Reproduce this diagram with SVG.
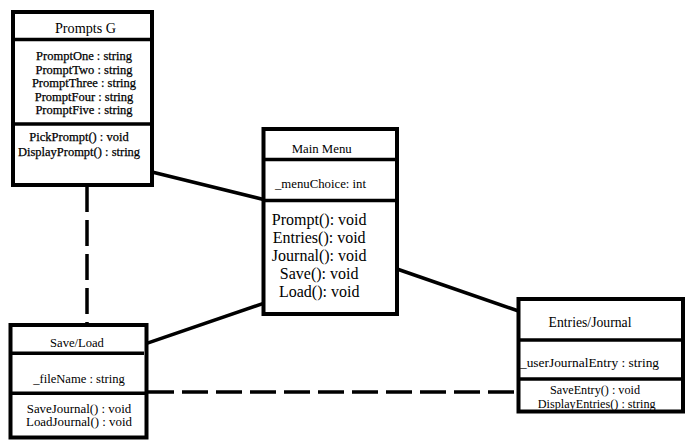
<svg xmlns="http://www.w3.org/2000/svg" width="685" height="447" viewBox="0 0 685 447">
<style>
.box{fill:#fff;stroke:#000;stroke-width:4}
.div{stroke:#000;stroke-width:3.5;fill:none}
.conn{stroke:#000;stroke-width:3.5;fill:none}
.dash{stroke-dasharray:26 8}
text{font-family:"Liberation Serif","Times New Roman",serif;fill:#000;text-anchor:middle}
.bold{stroke:#000;stroke-width:0.25}
</style>
<rect width="685" height="447" fill="#fff"/>
<g id="connectors">
<line class="conn" x1="152" y1="172" x2="263.5" y2="199.5"/>
<line class="conn" x1="397" y1="269" x2="518.5" y2="311"/>
<line class="conn" x1="146.7" y1="343.3" x2="263.5" y2="303.3"/>
<line class="conn dash" x1="148" y1="392" x2="518.5" y2="392"/>
<line class="conn dash" x1="87" y1="186" x2="87" y2="325"/>
</g>
<g id="prompts">
<rect class="box" x="13" y="12" width="139" height="173"/>
<line class="div" x1="13" y1="39.5" x2="152" y2="39.5"/>
<line class="div" x1="13" y1="124" x2="152" y2="124"/>
<text x="85.5" y="33" font-size="14.2">Prompts G</text>
<g font-size="12.5" class="bold">
<text x="84" y="60">PromptOne : string</text>
<text x="84" y="73.5">PromptTwo : string</text>
<text x="84" y="87">PromptThree : string</text>
<text x="84" y="100.5">PromptFour : string</text>
<text x="84" y="114">PromptFive : string</text>
<text x="79" y="141">PickPrompt() : void</text>
<text x="79" y="156">DisplayPrompt() : string</text>
</g>
</g>
<g id="mainmenu">
<rect class="box" x="263.5" y="129" width="133.5" height="185"/>
<line class="div" x1="263.5" y1="159.5" x2="397" y2="159.5"/>
<line class="div" x1="263.5" y1="200.5" x2="397" y2="200.5"/>
<text x="321.7" y="152.7" font-size="12.8">Main Menu</text>
<text x="320.5" y="188" font-size="12.75">_menuChoice: int</text>
<g font-size="16">
<text x="319.2" y="225">Prompt(): void</text>
<text x="319.2" y="243">Entries(): void</text>
<text x="319.2" y="261">Journal(): void</text>
<text x="319.2" y="279">Save(): void</text>
<text x="319.2" y="297">Load(): void</text>
</g>
</g>
<g id="saveload">
<rect class="box" x="10.5" y="325" width="136" height="112.5"/>
<line class="div" x1="10.5" y1="353.3" x2="144" y2="353.3"/>
<line class="div" x1="10.5" y1="393.3" x2="146.5" y2="393.3"/>
<text x="77" y="346.7" font-size="12.6">Save/Load</text>
<text x="79" y="383" font-size="12.6">_fileName : string</text>
<text x="79" y="412.7" font-size="12.9">SaveJournal() : void</text>
<text x="79" y="426" font-size="12.9">LoadJournal() : void</text>
</g>
<g id="entries">
<rect class="box" x="518.5" y="299" width="164.5" height="112.5"/>
<line class="div" x1="518.5" y1="340" x2="683" y2="340"/>
<line class="div" x1="518.5" y1="379" x2="683" y2="379"/>
<text x="590" y="326.7" font-size="13.7">Entries/Journal</text>
<text x="589.5" y="366.7" font-size="13.4">_userJournalEntry : string</text>
<text x="595" y="393.5" font-size="12.2">SaveEntry() : void</text>
<text x="596.7" y="407.5" font-size="12.2">DisplayEntries() : string</text>
</g>
</svg>
